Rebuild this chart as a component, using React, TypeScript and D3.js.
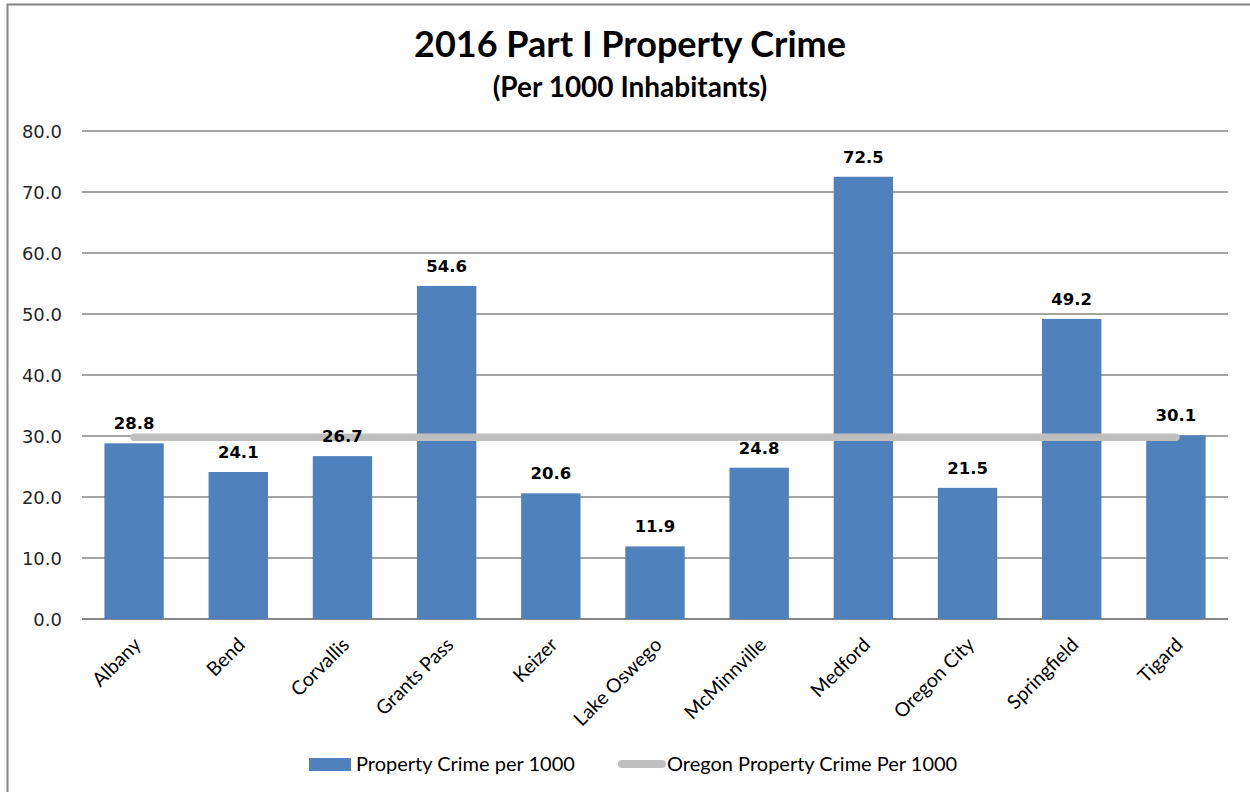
import React from "react";
import * as d3 from "d3";

const categories = ["Albany", "Bend", "Corvallis", "Grants Pass", "Keizer", "Lake Oswego", "McMinnville", "Medford", "Oregon City", "Springfield", "Tigard"];
const crimeValues = [28.8, 24.1, 26.7, 54.6, 20.6, 11.9, 24.8, 72.5, 21.5, 49.2, 30.1];
const oregonValues = [29.8, 29.8, 29.8, 29.8, 29.8, 29.8, 29.8, 29.8, 29.8, 29.8, 29.8];
const yTicks = [0, 10, 20, 30, 40, 50, 60, 70, 80];
const seriesNames = ["Property Crime per 1000", "Oregon Property Crime Per 1000"];

const W = 1250, H = 792;
const M = { left: 82, right: 1228, top: 131, bottom: 619 };
const CAL = "Lato, 'Open Sans', sans-serif";
const VER = "'DejaVu Sans', Verdana, sans-serif";

export default function App() {
  const x = d3.scaleBand<string>().domain(categories).range([M.left, M.right]).paddingInner(0.43).paddingOuter(0.215);
  const y = d3.scaleLinear().domain([0, 80]).range([M.bottom, M.top]);
  const xc = (c: string) => (x(c) as number) + x.bandwidth() / 2;
  const band = (M.right - M.left) / categories.length;
  const center = (i: number) => M.left + band * (i + 0.5);
  const line = d3.line<number>().x((_, i) => center(i)).y((d) => y(d));

  return (
    <svg width={W} height={H} style={{ position: "absolute", left: 0, top: 0 }}>
      <rect x={0} y={0} width={W} height={H} fill="#fff" />
      <rect x={7.5} y={4.5} width={W + 20} height={H + 20} fill="none" stroke="#868686" strokeWidth={2} />
      <text x={630} y={57} textAnchor="middle" fontFamily={CAL} fontWeight="bold" fontSize={36} fill="#000">2016 Part I Property Crime</text>
      <text x={630} y={97} textAnchor="middle" fontFamily={CAL} fontWeight="bold" fontSize={28} fill="#000">(Per 1000 Inhabitants)</text>
      {yTicks.map((t) => (
        <g key={t}>
          <line x1={M.left} x2={M.right} y1={y(t)} y2={y(t)} stroke="#868686" strokeWidth={t === 0 ? 2 : 1.5} />
          <text x={62} y={y(t) + 6.5} textAnchor="end" fontFamily={VER} fontSize={18} fill="#262626">{t.toFixed(1)}</text>
        </g>
      ))}
      {categories.map((c, i) => (
        <rect key={c} x={x(c)} y={y(crimeValues[i])} width={x.bandwidth()} height={y(0) - y(crimeValues[i])} fill="#4F81BD" />
      ))}
      <path d={line(oregonValues) || ""} fill="none" stroke="#BFBFBF" strokeWidth={7.5} strokeLinecap="round" />
      {categories.map((c, i) => (
        <text key={c} x={xc(c)} y={y(crimeValues[i]) - 14} textAnchor="middle" fontFamily={VER} fontWeight="bold" fontSize={16.5} fill="#000">{crimeValues[i].toFixed(1)}</text>
      ))}
      {categories.map((c) => (
        <text key={c} transform={`translate(${xc(c) + 8},${646}) rotate(-45)`} textAnchor="end" fontFamily={CAL} fontSize={19.5} fill="#000">{c}</text>
      ))}
      <rect x={309} y={758} width={42} height={13} fill="#4F81BD" />
      <text x={356} y={771} fontFamily={CAL} fontSize={20} fill="#000">{seriesNames[0]}</text>
      <line x1={622} x2={662} y1={764} y2={764} stroke="#BFBFBF" strokeWidth={8} strokeLinecap="round" />
      <text x={667} y={771} fontFamily={CAL} fontSize={20} fill="#000">{seriesNames[1]}</text>
    </svg>
  );
}
